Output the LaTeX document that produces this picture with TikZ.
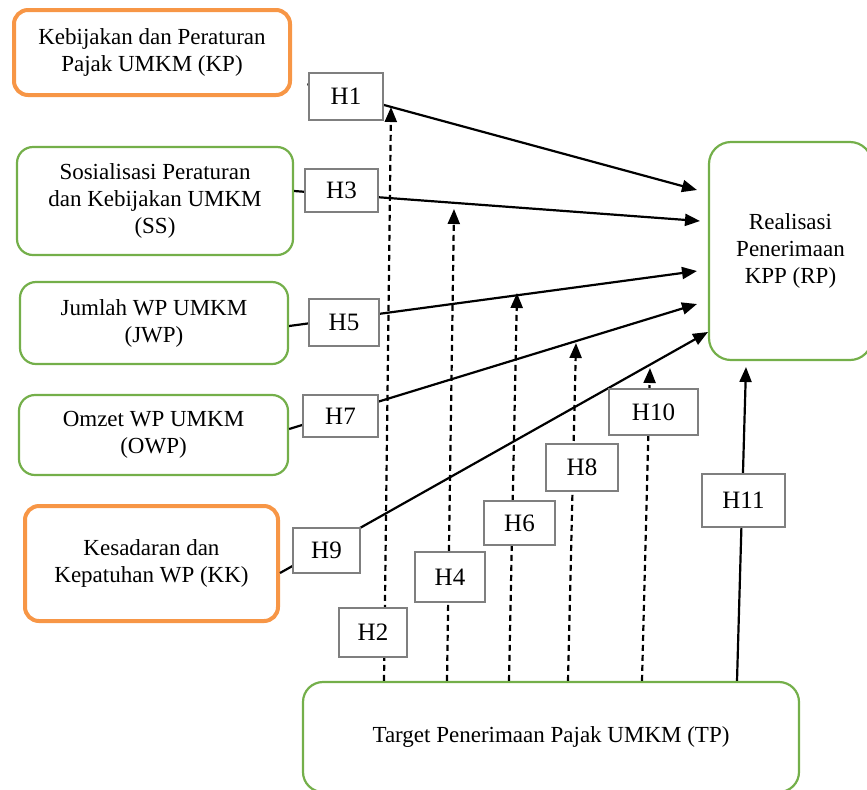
\documentclass[tikz,border=0pt]{standalone}
\usepackage{fontspec}
\setmainfont{Liberation Serif}
\usetikzlibrary{arrows.meta,calc}
\definecolor{boxgreen}{HTML}{74AF4A}
\definecolor{boxorange}{HTML}{F79646}
\definecolor{hgray}{HTML}{7F7F7F}
\tikzset{
  varbox/.style={draw=boxgreen, line width=1.1pt, rounded corners=8pt, align=center,
    inner sep=0pt, font=\fontsize{11.5}{13.5}\selectfont},
  keybox/.style={varbox, draw=boxorange, line width=2pt, rounded corners=7pt},
  hbox/.style={draw=hgray, line width=0.8pt, fill=white, inner sep=0pt,
    font=\fontsize{12.5}{14}\selectfont},
  link/.style={line width=1.1pt, -{Triangle[length=7.5pt,width=6pt]}},
  modlink/.style={link, dash pattern=on 3pt off 2pt},
}
\begin{document}
\begin{tikzpicture}[x=0.5pt,y=-0.5pt]
\useasboundingbox (0,0) rectangle (867,789);
\clip (0,0) rectangle (867,789);
% variabel
\node[keybox, minimum width=138pt, minimum height=42.5pt] (KP) at (152,52.5) {Kebijakan dan Peraturan\\Pajak UMKM (KP)};
\node[varbox, minimum width=138pt, minimum height=54pt] (SS) at (155,201) {Sosialisasi Peraturan\\dan Kebijakan UMKM\\(SS)};
\node[varbox, minimum width=134pt, minimum height=41pt] (JWP) at (154,323) {Jumlah WP UMKM\\(JWP)};
\node[varbox, minimum width=134.5pt, minimum height=40pt] (OWP) at (153.5,435) {Omzet WP UMKM\\(OWP)};
\node[keybox, minimum width=126.5pt, minimum height=57.5pt] (KK) at (151.5,563.5) {Kesadaran dan\\Kepatuhan WP (KK)};
\node[varbox, rounded corners=11pt, minimum width=81.5pt, minimum height=109pt] (RP) at (790.5,251) {Realisasi\\Penerimaan\\KPP (RP)};
\node[varbox, rounded corners=10pt, minimum width=248pt, minimum height=55pt] (TP) at (551,737) {Target Penerimaan Pajak UMKM (TP)};
% ujung panah
\coordinate (r1) at (697,190);
\coordinate (r3) at (700,221);
\coordinate (r5) at (697,271);
\coordinate (r7) at (697,304);
\coordinate (r9) at (708,332);
\coordinate (m2) at (391,107);
\coordinate (m4) at (454,209);
\coordinate (m6) at (517,293);
\coordinate (m8) at (576,343);
\coordinate (m10) at (650,368);
\coordinate (m11) at (746,367);
% pengaruh langsung
\draw[link, shorten <=8pt] (KP.east |- 0,80) -- (r1);
\draw[link] (SS.east |- 0,191) -- (r3);
\draw[link] (JWP.east |- 0,326) -- (r5);
\draw[link] (OWP.east |- 0,429) -- (r7);
\draw[link] (KK.east |- 0,573) -- (r9);
% moderasi
\draw[modlink] ($(TP.north -| m2)+(-7,0)$) -- (m2);
\draw[modlink] ($(TP.north -| m4)+(-7,0)$) -- (m4);
\draw[modlink] ($(TP.north -| m6)+(-8,0)$) -- (m6);
\draw[modlink] ($(TP.north -| m8)+(-8,0)$) -- (m8);
\draw[modlink] ($(TP.north -| m10)+(-8,0)$) -- (m10);
\draw[link] ($(TP.north -| m11)+(-9,0)$) -- (m11);
% hipotesis
\node[hbox, minimum width=37pt, minimum height=23.5pt] (H1) at (346,96.5) {H1};
\node[hbox, minimum width=36.5pt, minimum height=21.5pt] (H3) at (341.5,190.5) {H3};
\node[hbox, minimum width=35pt, minimum height=23.5pt] (H5) at (344,322.5) {H5};
\node[hbox, minimum width=37.5pt, minimum height=21pt] (H7) at (340.5,416) {H7};
\node[hbox, minimum width=33.5pt, minimum height=22.5pt] (H9) at (326.5,550.5) {H9};
\node[hbox, minimum width=34pt, minimum height=24.5pt] (H2) at (373,632.5) {H2};
\node[hbox, minimum width=35pt, minimum height=25pt] (H4) at (450,577) {H4};
\node[hbox, minimum width=35.5pt, minimum height=22pt] (H6) at (519.5,523) {H6};
\node[hbox, minimum width=36pt, minimum height=23.5pt] (H8) at (582,467.5) {H8};
\node[hbox, minimum width=44.5pt, minimum height=23pt] (H10) at (653.5,412) {H10};
\node[hbox, minimum width=41.5pt, minimum height=26.5pt] (H11) at (743.5,500.5) {H11};
\end{tikzpicture}
\end{document}
